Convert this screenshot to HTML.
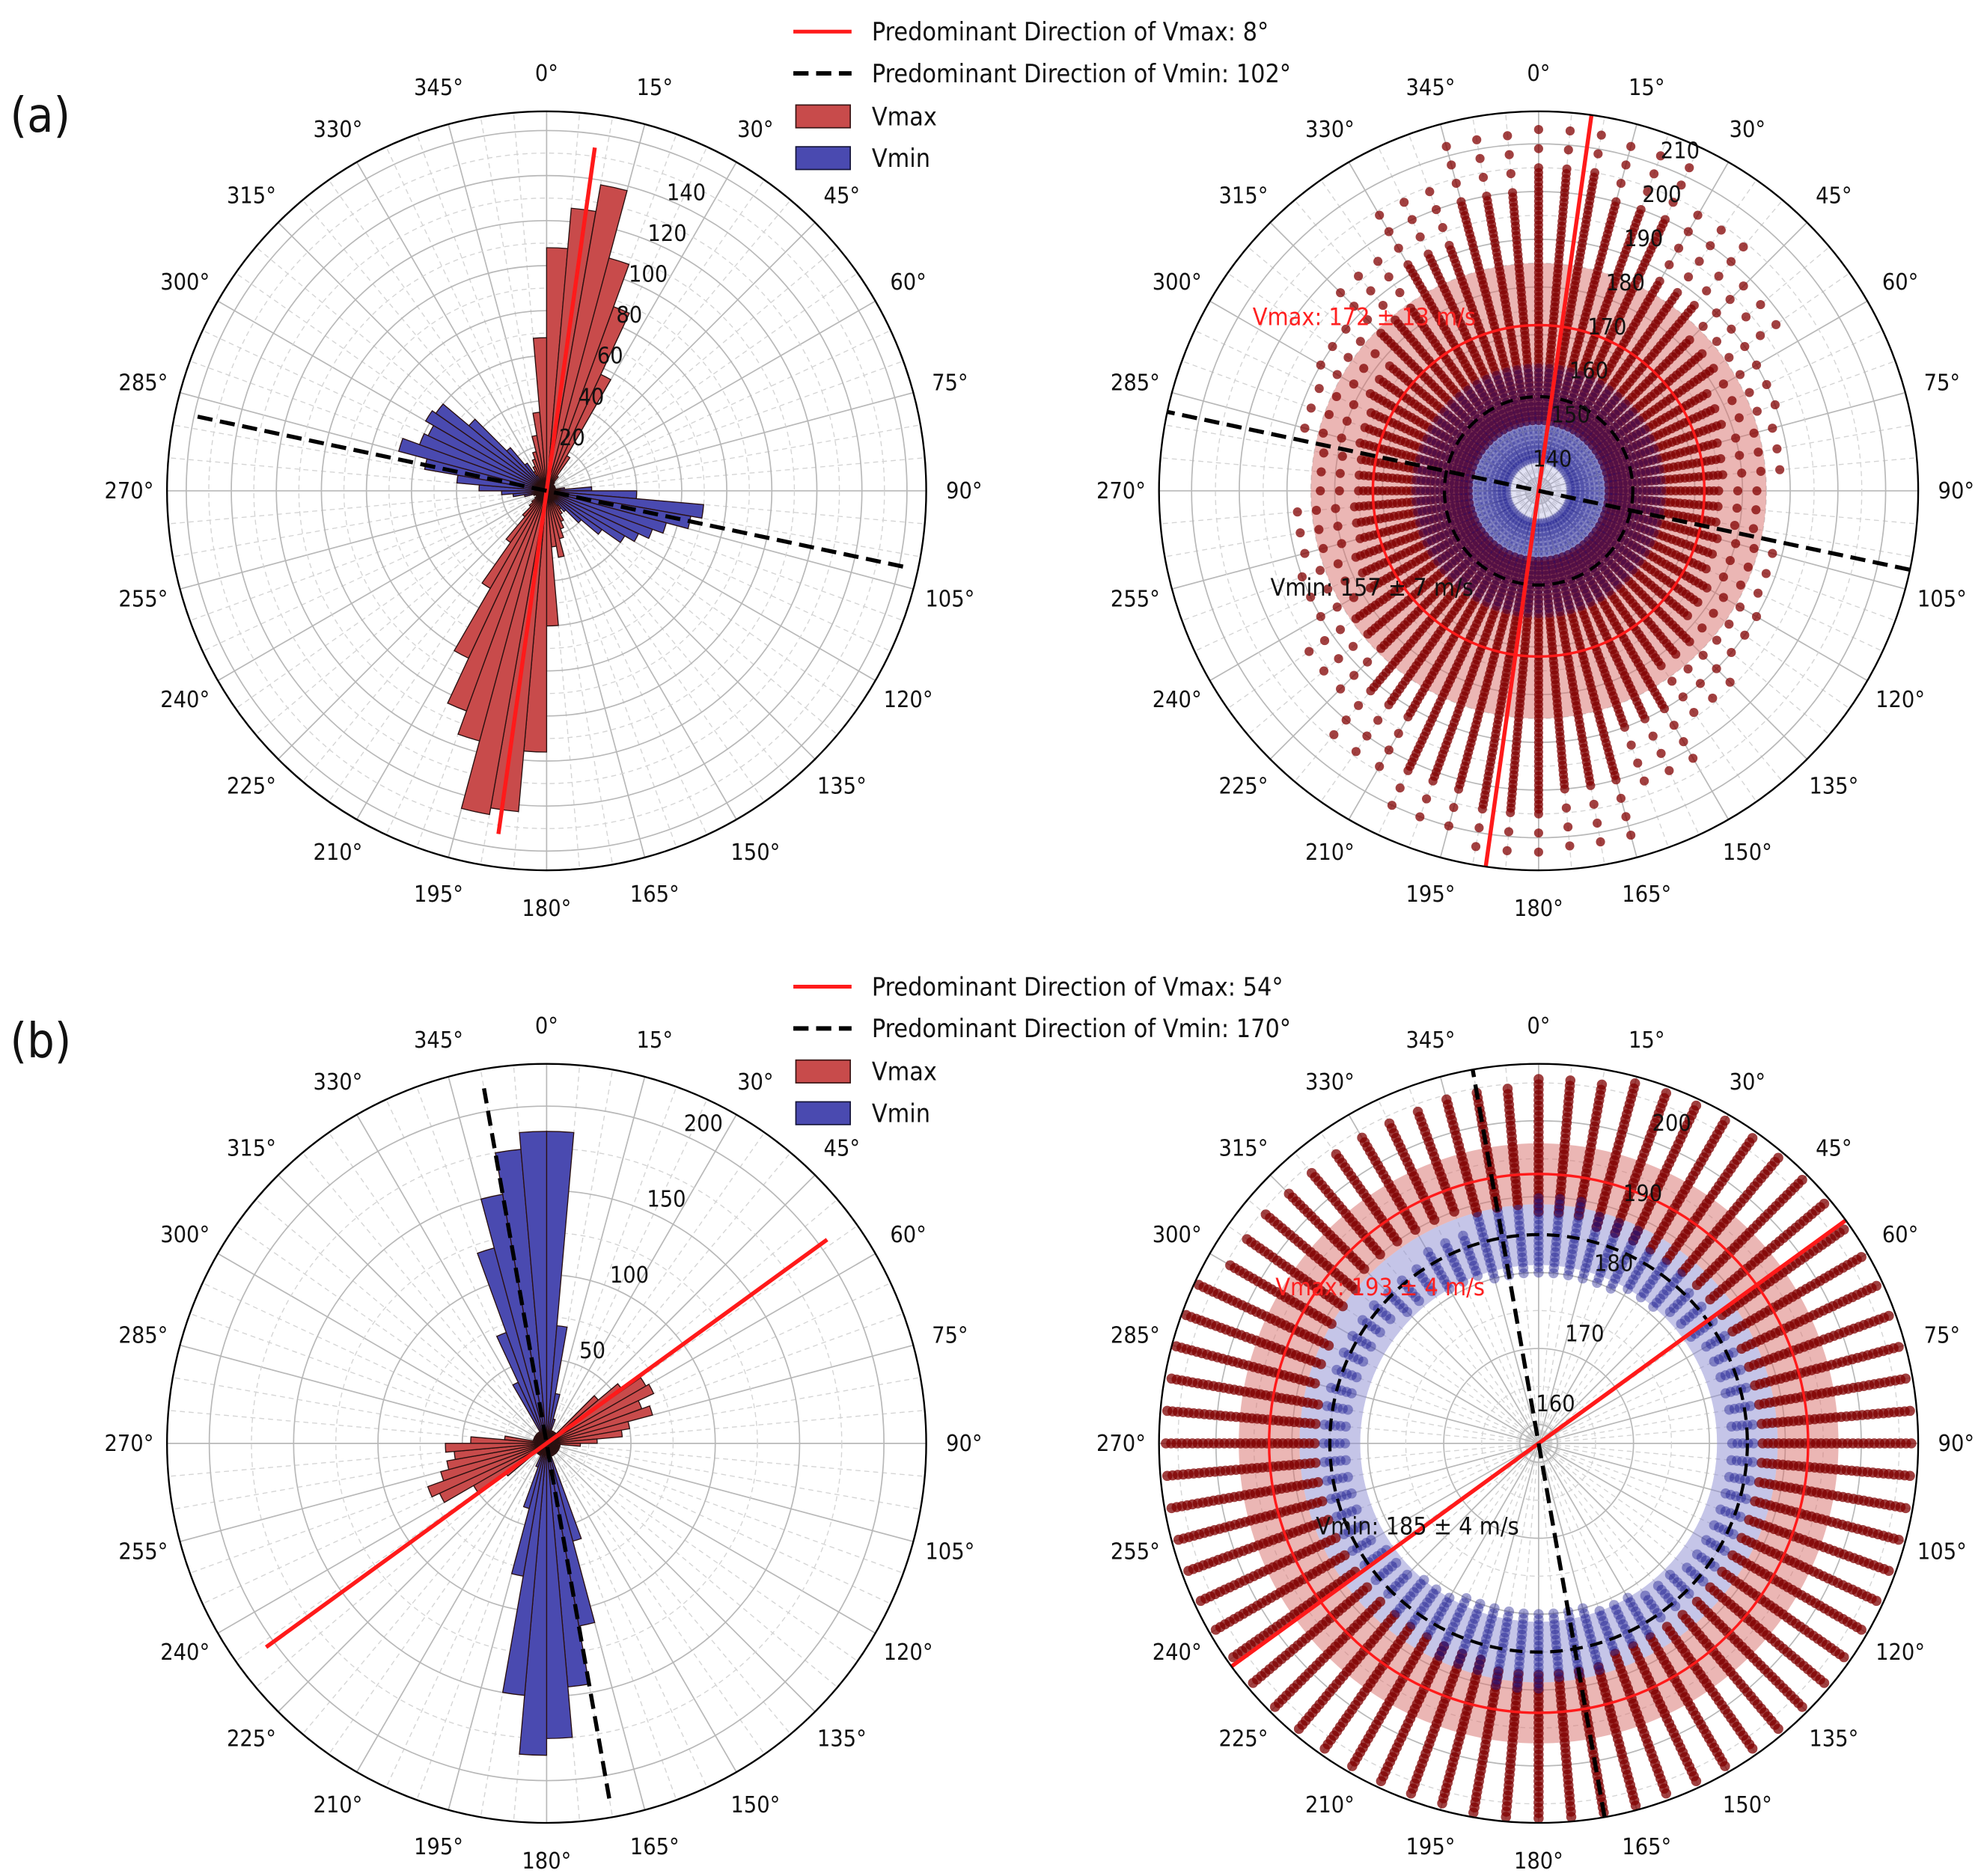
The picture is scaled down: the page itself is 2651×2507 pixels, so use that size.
<!DOCTYPE html>
<html><head><meta charset="utf-8">
<style>
html,body{margin:0;padding:0;background:#fff;}
svg{display:block;}
text{font-family:"DejaVu Sans Condensed","Liberation Sans Narrow","Liberation Sans",sans-serif;fill:#111;}
</style></head>
<body>
<svg id="fig" width="2651" height="2507" viewBox="0 0 1568 1483" preserveAspectRatio="none" xmlns="http://www.w3.org/2000/svg">
<rect x="0" y="0" width="1568" height="1483" fill="#fff"/>
<text x="8" y="104" font-size="38">(a)</text>
<text x="8" y="836" font-size="38">(b)</text>
<g id="layer"></g>
</svg>
<script>
// ---- Data ----
const binAngles = Array.from({length:72},(_, i)=>i*5);
const vmaxCountsA = [108,126,138,107,87,57,18,8,5,4,4,3,3,3,4,4,5,6,6,5,5,5,6,8,8,8,9,10,10,12,15,18,22,30,25,60,116,143,146,115,104,82,50,28,15,10,8,6,5,5,4,4,4,3,3,3,3,3,4,4,5,5,6,7,8,10,12,15,18,25,35,68];
const vminCountsA = [4,4,4,4,4,4,4,4,4,4,4,4,4,4,4,4,8,20,40,70,65,55,50,45,40,30,20,12,8,4,4,4,4,4,4,4,4,4,4,4,4,4,4,4,4,4,4,4,4,4,6,10,15,20,30,40,55,68,60,58,62,60,45,25,15,8,4,4,4,4,4,4];
const vmaxCountsB = [8,8,8,8,8,8,8,8,8,40,55,68,70,60,65,50,45,30,20,8,8,8,8,8,8,8,8,8,8,8,8,8,8,8,8,8,8,8,8,8,8,8,8,8,8,8,30,50,70,75,65,60,55,60,45,25,8,8,8,8,8,8,8,8,8,8,8,8,8,8,8,8];
const vminCountsB = [185,70,30,15,8,5,5,5,5,5,5,5,5,5,5,5,5,5,5,5,5,5,5,5,5,5,5,5,5,5,5,5,60,110,145,175,185,150,80,40,15,5,5,5,5,5,5,5,5,5,5,5,5,5,5,5,5,5,5,5,5,5,5,5,5,5,40,70,120,150,175,185];
// scatter ranges per 15-degree sector (0,15,...,345)
const sectorAngles = Array.from({length:24},(_, i)=>i*15);
const aMaxLow   = [152,152,152,152,152,152,152,152,152,152,152,152,152,152,152,152,152,152,152,152,152,152,152,152];
const aMaxDense = [205,200,188,182,178,176,175,176,178,182,190,200,205,202,192,184,178,176,175,176,178,184,192,200];
const aMaxHigh  = [215,212,205,198,192,188,186,188,192,196,205,212,215,213,206,198,192,188,186,188,192,198,206,212];
const aMinLow   = [144,144,144,144,144,144,144,144,144,144,144,144,144,144,144,144,144,144,144,144,144,144,144,144];
const aMinHigh  = [163,163,163,163,163,163,163,163,163,163,163,163,163,163,163,163,163,163,163,163,163,163,163,163];
const bMaxLow   = [188,187,187,187,187,187,187,187,187,187,187,188,188,187,187,187,187,187,187,188,189,190,190,189];
const bMaxHigh  = [206,207,207,207,207,207,207,207,207,207,207,207,207,207,207,207,207,207,207,207,205,204,204,205];
const bMinLow   = [180,180,181,182,183,183,183,183,183,182,181,180,180,180,181,182,183,183,183,183,183,182,181,180];
const bMinHigh  = [190,189,187,186,186,186,186,186,186,186,187,189,190,189,187,186,186,186,186,186,186,186,187,189];
const ringA1 = [20,40,60,80,100,120,140];
const ringA2 = [140,150,160,170,180,190,200,210];
const ringB1 = [50,100,150,200];
const ringB2 = [160,170,180,190,200];
const angleTicks = Array.from({length:24},(_, i)=>i*15);

// ---- helpers ----
const NS="http://www.w3.org/2000/svg";
const layer=document.getElementById('layer');
function mk(tag,attrs,parent){const e=document.createElementNS(NS,tag);for(const k in attrs)e.setAttribute(k,attrs[k]);(parent||layer).appendChild(e);return e;}
function pt(cx,cy,r,deg){const a=deg*Math.PI/180;return [cx+r*Math.sin(a),cy-r*Math.cos(a)];}

function drawGrid(g,cx,cy,R,ringsR,halfR){
  for(let d=0;d<360;d+=5){
    const p=pt(cx,cy,R,d);
    const l=mk('line',{x1:cx,y1:cy,x2:p[0].toFixed(1),y2:p[1].toFixed(1),stroke:d%15===0?'#b8b8b8':'#d4d4d4','stroke-width':d%15===0?1:0.8,'stroke-dasharray':d%15===0?'':'4,3'},g);
    
    
  }
  halfR.forEach(r=>{const c=mk('circle',{cx:cx,cy:cy,r:r,fill:'none',stroke:'#d4d4d4','stroke-width':0.8,'stroke-dasharray':'4,3'},g);
    
    });
  ringsR.forEach(r=>{const c=mk('circle',{cx:cx,cy:cy,r:r,fill:'none',stroke:'#b8b8b8','stroke-width':1},g);
    
    });
}
function drawFrame(g,cx,cy,R){
  const c=mk('circle',{cx:cx,cy:cy,r:R,fill:'none',stroke:'#000','stroke-width':1.4},g);
  
  
  angleTicks.forEach(d=>{
    const p=pt(cx,cy,R+30,d);
    const t=mk('text',{x:p[0].toFixed(1),y:(p[1]+6).toFixed(1),'font-size':18,'text-anchor':'middle'},g);
    t.textContent=d+'°';
    
    
  });
}
function radialLabels(g,cx,cy,vals,rf,ang){
  vals.forEach(v=>{const p=pt(cx,cy,rf(v),ang);
    const t=mk('text',{x:p[0].toFixed(1),y:(p[1]+7).toFixed(1),'font-size':18,'text-anchor':'middle'},g);
    t.textContent=v;
    
    });
}
function bars(g,cx,cy,counts,scale,fill,name){
  counts.forEach((v,i)=>{
    const a0=binAngles[i],a1=a0+5,r=v*scale;
    const p0=pt(cx,cy,r,a0),p1=pt(cx,cy,r,a1);
    const b=mk('path',{d:`M${cx},${cy}L${p0[0].toFixed(1)},${p0[1].toFixed(1)}A${r.toFixed(1)},${r.toFixed(1)} 0 0 1 ${p1[0].toFixed(1)},${p1[1].toFixed(1)}Z`,fill:fill,stroke:'#2a1010','stroke-width':0.8},g);
    
    
  });
}
function dirLine(g,cx,cy,deg,r1,r2,color,dash,name){
  const p=pt(cx,cy,r1,deg),q=pt(cx,cy,-r2,deg);
  const l=mk('line',{x1:p[0].toFixed(1),y1:p[1].toFixed(1),x2:q[0].toFixed(1),y2:q[1].toFixed(1),stroke:color,'stroke-width':3.2,'stroke-dasharray':dash},g);
  
  
}
function annulus(g,cx,cy,r1,r2,fill,name){
  const p=mk('path',{d:`M${cx-r2},${cy}a${r2},${r2} 0 1 0 ${2*r2},0a${r2},${r2} 0 1 0 ${-2*r2},0ZM${cx-r1},${cy}a${r1},${r1} 0 1 1 ${2*r1},0a${r1},${r1} 0 1 1 ${-2*r1},0Z`,fill:fill,'fill-rule':'evenodd'},g);
  
  
}
function rays(g,cx,cy,rf,lowArr,highArr,denseArr,step,sparseStep,color,rad,name,R){
  for(let d=0;d<360;d+=5){
    const s=Math.floor(d/15)%24;
    const lo=lowArr[s],hi=highArr[s],de=denseArr?denseArr[s]:hi;
    for(let v=lo;v<=hi+0.001;v+=(v<de?step:sparseStep)){
      const r=rf(v); if(r>R+4) continue;
      const p=pt(cx,cy,r,d);
      const c=mk('circle',{cx:p[0].toFixed(1),cy:p[1].toFixed(1),r:rad,fill:color},g);
      
      
    }
  }
}
function legend(y0,t1,t2){
  const g=mk('g',{});
  
  
  const l1=mk('line',{x1:627,y1:y0,x2:673,y2:y0,stroke:'#ff1a1a','stroke-width':3},g);
  
  const l2=mk('line',{x1:627,y1:y0+33,x2:673,y2:y0+33,stroke:'#000','stroke-width':3.5,'stroke-dasharray':'12,6'},g);
  
  const r1=mk('rect',{x:629,y:y0+58,width:43,height:18,fill:'#c84b4b',stroke:'#3a1515','stroke-width':1},g);
  
  const r2=mk('rect',{x:629,y:y0+91,width:43,height:18,fill:'#4a4ab0',stroke:'#15153a','stroke-width':1},g);
  
  [[t1,0],[t2,33],['Vmax',67],['Vmin',100]].forEach(([s,dy])=>{
    const t=mk('text',{x:689,y:y0+dy+7,'font-size':20},g);t.textContent=s;
    
    
  });
}
function label(x,y,s,color,name){const t=mk('text',{x:x,y:y,'font-size':19,fill:color});t.textContent=s;t.style.fill=color;
  
  }

const R=300;
// ---- Panel (a) left: rose histogram ----
(function(){
  const cx=432,cy=388,sc=1.78;
  const g=mk('g',{});
  drawGrid(g,cx,cy,R,ringA1.map(v=>v*sc).concat([160*sc]),[10,30,50,70,90,110,130,150].map(v=>v*sc));
  bars(g,cx,cy,vmaxCountsA,sc,'#c84b4b','bar-vmax');
  bars(g,cx,cy,vminCountsA,sc,'#4a4ab0','bar-vmin');
  dirLine(g,cx,cy,8,274,274,'#ff1a1a','','vmax-direction-line');
  dirLine(g,cx,cy,102,288,288,'#000','12,6','vmin-direction-line');
  radialLabels(g,cx,cy,ringA1,v=>v*sc+12,25);
  drawFrame(g,cx,cy,R);
})();
// ---- Panel (a) right: scatter ----
(function(){
  const cx=1216,cy=388,rf=v=>131+(v-172)*3.77;
  const g=mk('g',{});
  drawGrid(g,cx,cy,R,ringA2.map(rf),[145,155,165,175,185,195,205].map(rf));
  annulus(g,cx,cy,rf(159),rf(185),'rgba(215,110,105,0.5)','vmax-std-band');
  annulus(g,cx,cy,0.1,rf(164),'rgba(160,160,220,0.3)','vmin-std-band');
  rays(g,cx,cy,rf,aMaxLow,aMaxHigh,aMaxDense,1,4,'rgba(130,0,0,0.75)',3.6,'vmax-point',R);
  rays(g,cx,cy,rf,aMinLow,aMinHigh,null,1,1,'rgba(20,20,140,0.25)',3.6,'vmin-point',R);
  const c1=mk('circle',{cx:cx,cy:cy,r:rf(172),fill:'none',stroke:'#ff1a1a','stroke-width':2},g);
  
  const c2=mk('circle',{cx:cx,cy:cy,r:rf(157),fill:'none',stroke:'#000','stroke-width':2.5,'stroke-dasharray':'10,6'},g);
  
  dirLine(g,cx,cy,8,300,300,'#ff1a1a','','vmax-direction-line');
  dirLine(g,cx,cy,102,300,300,'#000','12,6','vmin-direction-line');
  radialLabels(g,cx,cy,ringA2,v=>rf(v)+18,22.5);
  drawFrame(g,cx,cy,R);
})();
label(990,257,'Vmax: 172 ± 13 m/s','#ff2020','vmax-annotation');
label(1004,471,'Vmin: 157 ± 7 m/s','#111','vmin-annotation');
legend(25,'Predominant Direction of Vmax: 8°','Predominant Direction of Vmin: 102°');

// ---- Panel (b) left ----
(function(){
  const cx=432,cy=1141,sc=1.333;
  const g=mk('g',{});
  drawGrid(g,cx,cy,R,ringB1.map(v=>v*sc),[25,75,125,175,225].map(v=>v*sc));
  bars(g,cx,cy,vmaxCountsB,sc,'#c84b4b','bar-vmax');
  bars(g,cx,cy,vminCountsB,sc,'#4a4ab0','bar-vmin');
  dirLine(g,cx,cy,54,274,274,'#ff1a1a','','vmax-direction-line');
  dirLine(g,cx,cy,170,285,285,'#000','12,6','vmin-direction-line');
  radialLabels(g,cx,cy,ringB1,v=>v*sc+16,26);
  drawFrame(g,cx,cy,R);
})();
// ---- Panel (b) right ----
(function(){
  const cx=1216,cy=1141,rf=v=>213+(v-193)*6;
  const g=mk('g',{});
  drawGrid(g,cx,cy,R,ringB2.map(rf),[165,175,185,195,205].map(rf));
  annulus(g,cx,cy,rf(189),rf(197),'rgba(215,110,105,0.5)','vmax-std-band');
  annulus(g,cx,cy,rf(181),rf(189),'rgba(140,140,210,0.5)','vmin-std-band');
  rays(g,cx,cy,rf,bMaxLow,bMaxHigh,null,0.7,0.7,'rgba(128,0,0,0.75)',4,'vmax-point',R);
  rays(g,cx,cy,rf,bMinLow,bMinHigh,null,0.7,0.7,'rgba(20,20,140,0.4)',4,'vmin-point',R);
  const c1=mk('circle',{cx:cx,cy:cy,r:rf(193),fill:'none',stroke:'#ff1a1a','stroke-width':2},g);
  
  const c2=mk('circle',{cx:cx,cy:cy,r:rf(185),fill:'none',stroke:'#000','stroke-width':2.5,'stroke-dasharray':'10,6'},g);
  
  dirLine(g,cx,cy,54,300,300,'#ff1a1a','','vmax-direction-line');
  dirLine(g,cx,cy,170,300,300,'#000','12,6','vmin-direction-line');
  radialLabels(g,cx,cy,ringB2,v=>rf(v)+20,22.5);
  drawFrame(g,cx,cy,R);
})();
label(1008,1024,'Vmax: 193 ± 4 m/s','#ff2020','vmax-annotation');
label(1040,1213,'Vmin: 185 ± 4 m/s','#111','vmin-annotation');
legend(780,'Predominant Direction of Vmax: 54°','Predominant Direction of Vmin: 170°');
</script>
</body></html>
